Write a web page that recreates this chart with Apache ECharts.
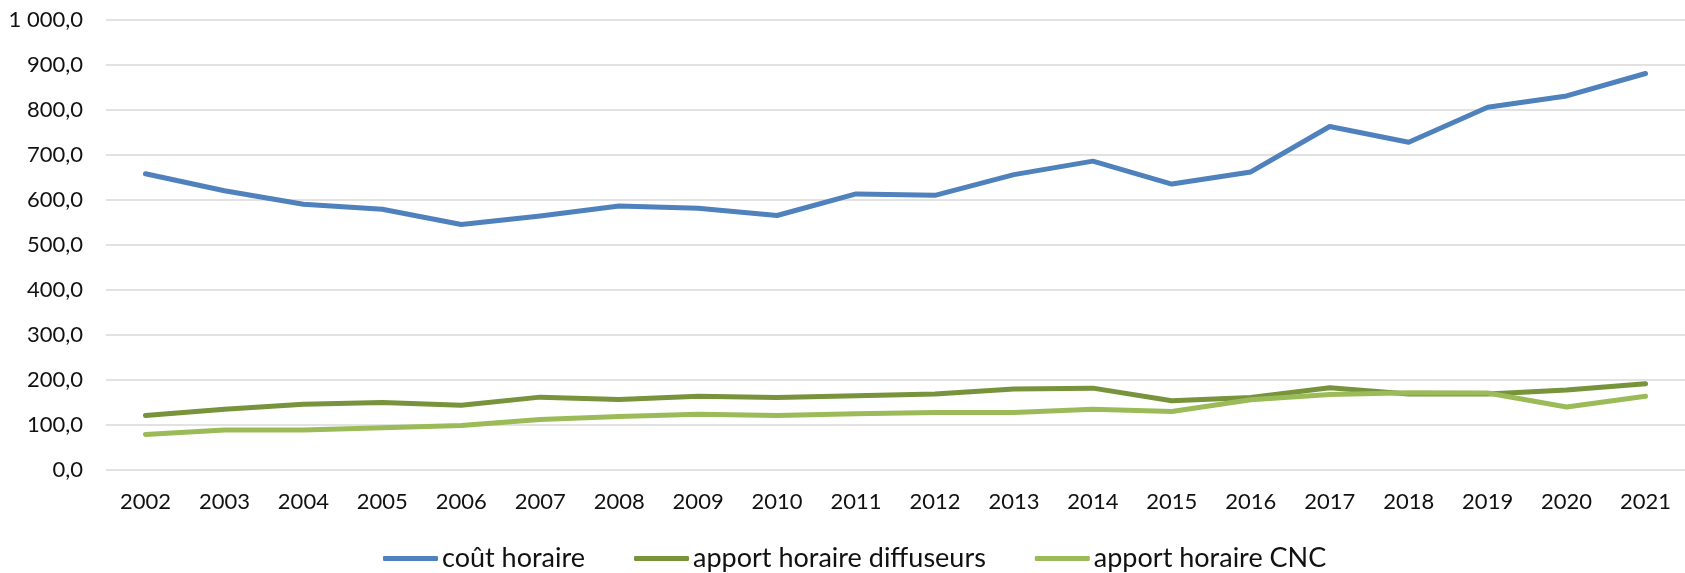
<!DOCTYPE html>
<html>
<head>
<meta charset="utf-8">
<script src="https://cdn.jsdelivr.net/npm/echarts@6/dist/echarts.min.js"></script>
<style>
  html, body { margin: 0; padding: 0; background: #fff; }
  #chart { width: 1685px; height: 573px; }
</style>
</head>
<body>
<div id="chart"></div>
<script>
// années
const years = ['2002', '2003', '2004', '2005', '2006', '2007', '2008', '2009', '2010', '2011',
  '2012', '2013', '2014', '2015', '2016', '2017', '2018', '2019', '2020', '2021']

// valeurs
const coutHoraire = [658, 620, 590, 579, 545, 564, 586, 581, 565, 613,
  610, 656, 686, 635, 662, 763, 728, 806, 831, 881]
const apportDiffuseurs = [120, 134, 145, 149, 143, 161, 156, 163, 160, 164,
  168, 179, 181, 153, 160, 182, 168, 168, 177, 191]
const apportCNC = [78, 88, 88, 93, 98, 111, 118, 123, 120, 124,
  127, 127, 134, 129, 155, 167, 171, 170, 139, 163]

const seriesNames = ['coût horaire', 'apport horaire diffuseurs', 'apport horaire CNC']
const seriesColors = ['#4F81BD', '#77933C', '#9BBB59']

const chart = echarts.init(document.getElementById('chart'))

function frNumber(v) {
  // format français : espace pour les milliers, virgule décimale
  const s = v.toFixed(1).split('.')
  return s[0].replace(/\B(?=(\d{3})+(?!\d))/g, ' ') + ',' + s[1]
}

const lineStyleFor = (i) => ({ color: seriesColors[i], width: 5, cap: 'round', join: 'round' })

const option = {
  animation: false,
  textStyle: { fontFamily: 'Lato' },
  grid: {
    left: 106,
    top: 20,
    width: 1590,
    height: 449.5
  },
  legend: {
    data: seriesNames,
    left: 378,
    top: 540,
    icon: 'roundRect',
    itemWidth: 55,
    itemHeight: 5,
    itemGap: 49,
    textStyle: { fontSize: 27, color: '#111', padding: [0, 0, 0, -1] }
  },
  xAxis: {
    type: 'category',
    data: years,
    boundaryGap: true,
    axisLine: { show: false },
    axisTick: { show: false },
    axisLabel: { fontSize: 22, color: '#111', margin: 21 }
  },
  yAxis: {
    type: 'value',
    min: 0,
    max: 1000,
    interval: 100,
    axisLine: { show: false },
    axisTick: { show: false },
    axisLabel: {
      fontSize: 22,
      color: '#111',
      margin: 23,
      formatter: frNumber
    },
    splitLine: { lineStyle: { color: '#D9D9D9', width: 1.5 } }
  },
  series: [
    {
      name: seriesNames[0],
      type: 'line',
      data: coutHoraire,
      showSymbol: false,
      itemStyle: { color: seriesColors[0] },
      lineStyle: lineStyleFor(0)
    },
    {
      name: seriesNames[1],
      type: 'line',
      data: apportDiffuseurs,
      showSymbol: false,
      itemStyle: { color: seriesColors[1] },
      lineStyle: lineStyleFor(1)
    },
    {
      name: seriesNames[2],
      type: 'line',
      data: apportCNC,
      showSymbol: false,
      itemStyle: { color: seriesColors[2] },
      lineStyle: lineStyleFor(2)
    }
  ]
}

chart.setOption(option)
</script>
</body>
</html>
